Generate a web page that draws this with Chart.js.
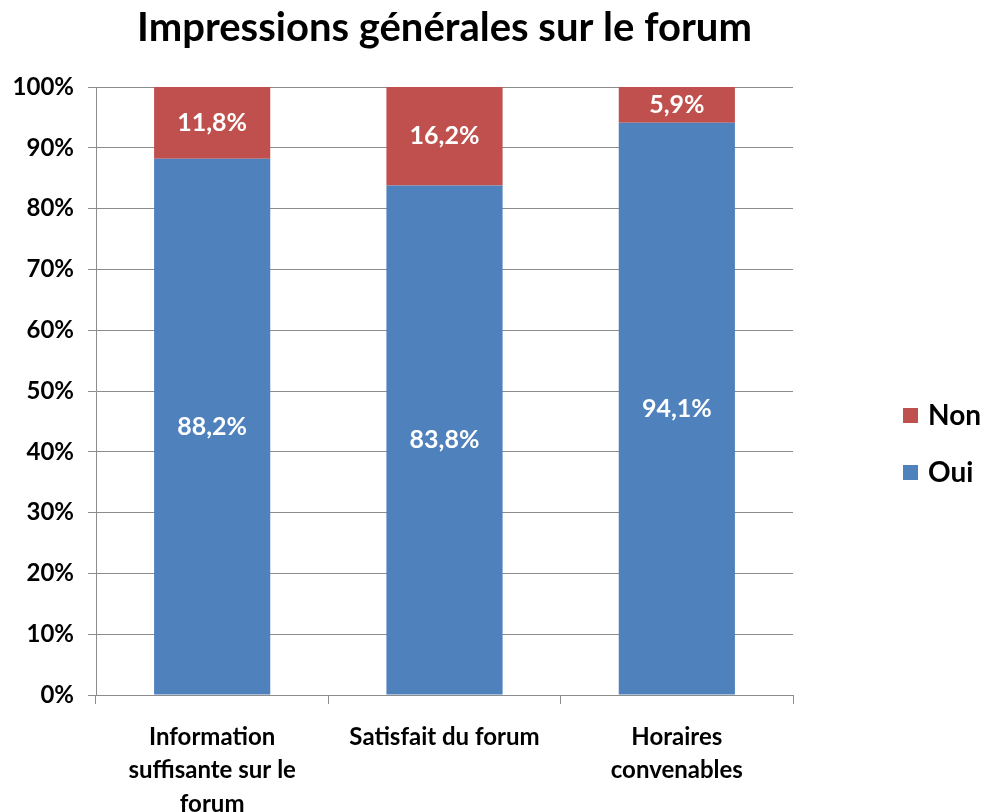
<!DOCTYPE html>
<html>
<head>
<meta charset="utf-8">
<script src="https://cdn.jsdelivr.net/npm/chart.js@4"></script>
<style>
  html, body { margin: 0; padding: 0; background: #ffffff; }
  #wrap { width: 985px; height: 812px; }
</style>
</head>
<body>
<div id="wrap"><canvas id="chart" width="985" height="812"></canvas></div>
<script>
const categories = [
    ["Information", "suffisante sur le", "forum"],
    "Satisfait du forum",
    ["Horaires", "convenables"]
];
const ouiValues = [88.2, 83.8, 94.1];
const nonValues = [11.8, 16.2, 5.9];
const yTicks = [0, 10, 20, 30, 40, 50, 60, 70, 80, 90, 100];

const FONT = "Lato, 'Open Sans', sans-serif";
const gridColor = "#8c8c8c";

// white percentage labels in the middle of each segment
const segmentLabels = {
    id: "segmentLabels",
    afterDatasetsDraw(chart) {
        const ctx = chart.ctx;
        ctx.save();
        ctx.fillStyle = "#ffffff";
        ctx.font = "bold 25px " + FONT;
        ctx.textAlign = "center";
        ctx.textBaseline = "middle";
        chart.data.datasets.forEach((ds, i) => {
            const meta = chart.getDatasetMeta(i);
            meta.data.forEach((bar, j) => {
                const text = ds.data[j].toFixed(1).replace(".", ",") + "%";
                const mid = (bar.y + bar.base) / 2;
                ctx.fillText(text, bar.x, mid);
            });
        });
        ctx.restore();
    }
};

// legend on the right, last series on top (like the spreadsheet one)
const sideLegend = {
    id: "sideLegend",
    afterDraw(chart) {
        const ctx = chart.ctx;
        const area = chart.chartArea;
        const x = area.right + 110;
        let y = (area.top + area.bottom) / 2 + 24;
        ctx.save();
        ctx.font = "bold 28px " + FONT;
        ctx.textBaseline = "middle";
        ctx.textAlign = "left";
        chart.data.datasets.slice().reverse().forEach(ds => {
            ctx.fillStyle = ds.backgroundColor;
            ctx.fillRect(x, y - 7, 15, 15);
            ctx.fillStyle = "#000000";
            ctx.fillText(ds.label, x + 25, y + 1);
            y += 57;
        });
        ctx.restore();
    }
};

let chart = new Chart(document.getElementById("chart"), {
    type: "bar",
    data: {
        labels: categories,
        datasets: [
            {
                label: "Oui",
                data: ouiValues,
                backgroundColor: "#4f81bd",
                barPercentage: 0.5,
                categoryPercentage: 1.0
            },
            {
                label: "Non",
                data: nonValues,
                backgroundColor: "#c0504d",
                barPercentage: 0.5,
                categoryPercentage: 1.0
            }
        ]
    },
    options: {
        responsive: false,
        animation: false,
        layout: {
            padding: { left: 0, right: 192, top: 0, bottom: 0 }
        },
        scales: {
            x: {
                stacked: true,
                grid: {
                    offset: true,
                    drawOnChartArea: false,
                    drawTicks: true,
                    tickLength: 9,
                    color: gridColor
                },
                border: { color: gridColor },
                ticks: {
                    color: "#000000",
                    font: { family: FONT, size: 24, weight: "bold", lineHeight: 1.4 },
                    maxRotation: 0,
                    padding: 16
                },
                afterFit(scale) { scale.height = 117; }
            },
            y: {
                stacked: true,
                min: 0,
                max: 100,
                afterBuildTicks(scale) {
                    scale.ticks = yTicks.map(v => ({ value: v }));
                },
                grid: {
                    color: gridColor,
                    tickLength: 8
                },
                border: { color: gridColor },
                ticks: {
                    color: "#000000",
                    font: { family: FONT, size: 24, weight: "bold" },
                    padding: 14,
                    callback: v => v + "%"
                },
                afterFit(scale) { scale.width = 96; }
            }
        },
        plugins: {
            title: {
                display: true,
                text: "Impressions générales sur le forum",
                color: "#000000",
                fullSize: false,
                font: { family: FONT, size: 40, weight: "bold" },
                padding: { top: 4, bottom: 35 }
            },
            legend: { display: false },
            tooltip: { enabled: false }
        }
    },
    plugins: [segmentLabels, sideLegend]
});
</script>
</body>
</html>
